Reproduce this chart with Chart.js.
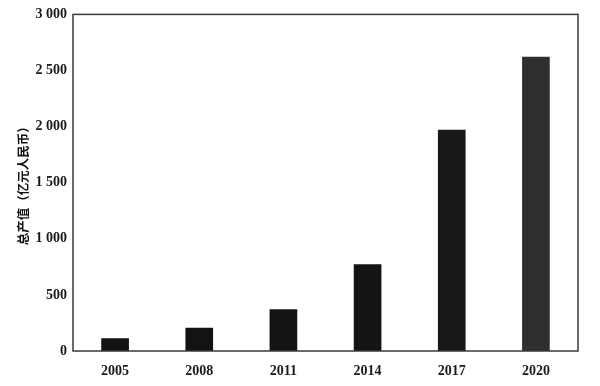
<!DOCTYPE html>
<html>
<head>
<meta charset="utf-8">
<script src="https://cdn.jsdelivr.net/npm/chart.js@4"></script>
<style>
  html, body { margin: 0; padding: 0; background: #ffffff; }
  #wrap { width: 600px; height: 386px; position: relative; }
</style>
</head>
<body>
<div id="wrap"><canvas id="c"></canvas></div>
<script>
const categories = ["2005", "2008", "2011", "2014", "2017", "2020"];
const values = [110, 205, 370, 770, 1970, 2620];
const barColors = ["#121212", "#131313", "#141414", "#141414", "#181818", "#2f2f2f"];
const yTickValues = [0, 500, 1000, 1500, 2000, 2500, 3000];
const yTickLabels = ["0", "500", "1 000", "1 500", "2 000", "2 500", "3 000"];
const yTitle = "总产值（亿元人民币）";

const framePlugin = {
  id: "frame",
  afterDraw(chart) {
    const a = chart.chartArea, ctx = chart.ctx;
    ctx.save();
    ctx.strokeStyle = "#3a3a3a";
    ctx.lineWidth = 1.5;
    ctx.strokeRect(a.left, a.top, a.right - a.left, a.bottom - a.top);
    ctx.restore();
  }
};

new Chart(document.getElementById("c"), {
  type: "bar",
  data: {
    labels: categories,
    datasets: [{
      data: values,
      backgroundColor: barColors,
      borderWidth: 0,
      barThickness: 27
    }]
  },
  options: {
    responsive: true,
    maintainAspectRatio: false,
    animation: false,
    layout: { padding: { left: 12, top: 10, right: 22, bottom: 0 } },
    plugins: { legend: { display: false }, tooltip: { enabled: false } },
    scales: {
      x: {
        grid: { display: false, drawTicks: false },
        border: { display: false },
        ticks: {
          color: "#1a1a1a",
          font: { family: "Liberation Serif", size: 14, weight: "bold" },
          padding: 12
        },
        afterFit(s) { s.height = 35; }
      },
      y: {
        min: 0, max: 3000,
        grid: { display: false, drawTicks: false },
        border: { display: false },
        afterBuildTicks(s) { s.ticks = yTickValues.map(v => ({ value: v })); },
        ticks: {
          color: "#1a1a1a",
          font: { family: "Liberation Serif", size: 14, weight: "bold" },
          padding: 6,
          callback(v) { const i = yTickValues.indexOf(v); return i >= 0 ? yTickLabels[i] : ""; }
        },
        title: {
          display: true,
          text: yTitle,
          color: "#111111",
          font: { family: "Noto Sans CJK SC", size: 12.5, weight: "bold" },
          padding: { top: 4, bottom: 4 }
        },
        afterFit(s) { s.width = 61; }
      }
    }
  },
  plugins: [framePlugin]
});
</script>
</body>
</html>
